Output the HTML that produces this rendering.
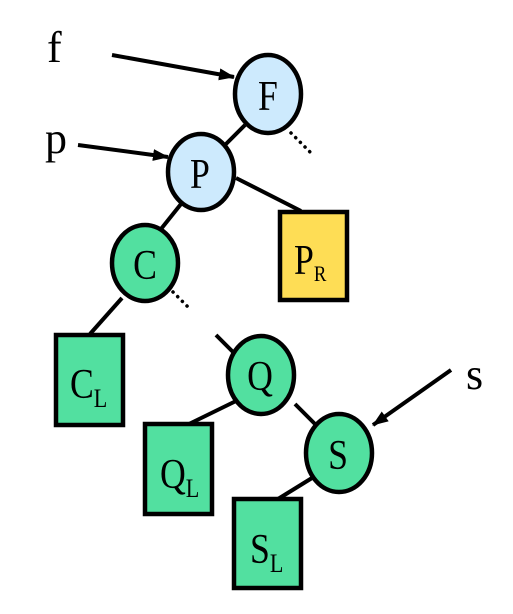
<!DOCTYPE html>
<html><head><meta charset="utf-8"><style>
html,body{margin:0;padding:0;background:#fff;width:513px;height:614px;overflow:hidden}
text{font-family:"Liberation Serif",serif;fill:#000}
</style></head><body>
<svg width="513" height="614" viewBox="0 0 513 614">
<defs><marker id="ah" markerWidth="16" markerHeight="12" refX="15" refY="6" orient="auto" markerUnits="userSpaceOnUse"><path d="M0,0 L16,6 L0,12 z" fill="#000"/></marker></defs>
<g stroke="#000" stroke-width="4" fill="none">
<line x1="245" y1="125" x2="224" y2="146"/>
<line x1="236" y1="178" x2="301" y2="211"/>
<line x1="181" y1="204" x2="157" y2="234"/>
<line x1="122" y1="298" x2="90" y2="334"/>
<line x1="216" y1="335" x2="239" y2="358"/>
<line x1="236" y1="401" x2="189" y2="424"/>
<line x1="295" y1="404" x2="317" y2="426"/>
<line x1="312" y1="478" x2="278" y2="499"/>
<line x1="112" y1="55" x2="234" y2="77" marker-end="url(#ah)"/>
<line x1="78" y1="145" x2="168" y2="157" marker-end="url(#ah)"/>
<line x1="451" y1="370" x2="373" y2="425" marker-end="url(#ah)"/>
</g>
<g stroke="#000" stroke-width="3.5" stroke-dasharray="0.1 6.5" stroke-linecap="round">
<line x1="291" y1="133" x2="310" y2="152"/>
<line x1="173" y1="292" x2="190" y2="309"/>
</g>
<g stroke="#000" stroke-width="4.5">
<ellipse cx="268" cy="94" rx="33" ry="39" fill="#cdeafd"/>
<ellipse cx="201" cy="172" rx="33" ry="38" fill="#cdeafd"/>
<ellipse cx="145" cy="263" rx="33" ry="38" fill="#52e0a0"/>
<ellipse cx="261" cy="375" rx="33" ry="39" fill="#52e0a0"/>
<ellipse cx="339" cy="453" rx="33" ry="39" fill="#52e0a0"/>
<rect x="280" y="212" width="67" height="88" fill="#fedd55"/>
<rect x="56" y="335" width="67" height="90" fill="#52e0a0"/>
<rect x="145" y="424" width="67" height="90" fill="#52e0a0"/>
<rect x="234" y="499" width="67" height="89" fill="#52e0a0"/>
</g>
<g font-size="42" text-anchor="middle">
<text x="268" y="110" transform="translate(268 110) scale(0.85 1) translate(-268 -110)">F</text>
<text x="200" y="188" transform="translate(200 188) scale(0.85 1) translate(-200 -188)">P</text>
<text x="145" y="279" transform="translate(145 279) scale(0.85 1) translate(-145 -279)">C</text>
<text x="260" y="390" transform="translate(260 390) scale(0.85 1) translate(-260 -390)">Q</text>
<text x="338" y="469" transform="translate(338 469) scale(0.85 1) translate(-338 -469)">S</text>
</g>
<g font-size="42">
<text x="294" y="274" transform="translate(294 274) scale(0.85 1) translate(-294 -274)">P<tspan font-size="22" dy="7">R</tspan></text>
<text x="70" y="398" transform="translate(70 398) scale(0.85 1) translate(-70 -398)">C<tspan font-size="26" dy="9">L</tspan></text>
<text x="160" y="488" transform="translate(160 488) scale(0.85 1) translate(-160 -488)">Q<tspan font-size="26" dy="9">L</tspan></text>
<text x="250" y="563" transform="translate(250 563) scale(0.85 1) translate(-250 -563)">S<tspan font-size="26" dy="9">L</tspan></text>
<text x="47" y="62" font-size="44">f</text>
<text x="45" y="153" font-size="44">p</text>
<text x="466" y="389" font-size="44">s</text>
</g>
</svg>
</body></html>
